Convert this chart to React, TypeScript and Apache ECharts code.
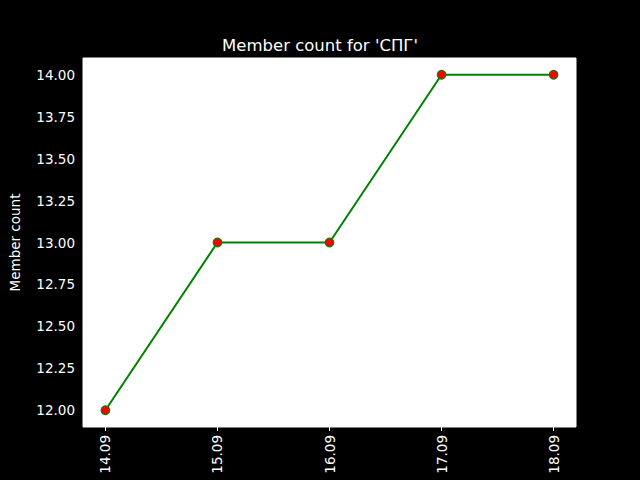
import React, { useEffect, useRef } from "react";
import * as echarts from "echarts";

const categories = ["14.09", "15.09", "16.09", "17.09", "18.09"];
const memberCounts = [12, 13, 13, 14, 14];
const yTicks = [12, 12.25, 12.5, 12.75, 13, 13.25, 13.5, 13.75, 14];
const titleText = "Member count for 'СПГ'";
const yAxisName = "Member count";

export default function App() {
  const ref = useRef<HTMLDivElement>(null);
  useEffect(() => {
    if (!ref.current) return;
    const chart = echarts.init(ref.current, null, { renderer: "svg" });
    const font = "DejaVu Sans";
    chart.setOption({
      animation: false,
      backgroundColor: "#000000",
      textStyle: { fontFamily: font },
      title: {
        text: titleText,
        left: "center",
        top: 32,
        textStyle: { color: "#ffffff", fontSize: 16.5, fontWeight: "normal", fontFamily: font },
      },
      grid: {
        left: 80,
        right: 64,
        top: 58,
        bottom: 53,
        show: true,
        backgroundColor: "#ffffff",
        borderColor: "#ffffff",
        borderWidth: 1,
      },
      xAxis: {
        type: "value",
        min: -0.2,
        max: 4.2,
        splitLine: { show: false },
        axisLine: { show: false },
        axisTick: {
          show: true,
          customValues: categories.map((_, i) => i),
          length: 4,
          lineStyle: { color: "#ffffff", width: 1 },
        },
        axisLabel: {
          customValues: categories.map((_, i) => i),
          rotate: 90,
          color: "#ffffff",
          fontSize: 13.5,
          fontFamily: font,
          margin: 8,
          formatter: (v: number) => categories[Math.round(v)] ?? "",
        },
      },
      yAxis: {
        type: "value",
        min: 11.9,
        max: 14.1,
        name: yAxisName,
        nameLocation: "middle",
        nameGap: 61,
        nameTextStyle: { color: "#ffffff", fontSize: 13.5, fontFamily: font },
        splitLine: { show: false },
        axisLine: { show: false },
        axisTick: {
          show: true,
          customValues: yTicks,
          length: 4,
          lineStyle: { color: "#ffffff", width: 1 },
        },
        axisLabel: {
          customValues: yTicks,
          color: "#ffffff",
          fontSize: 13.5,
          fontFamily: font,
          margin: 8,
          formatter: (v: number) => v.toFixed(2),
        },
      },
      series: [
        {
          type: "line",
          data: memberCounts.map((v, i) => [i, v]),
          lineStyle: { color: "#008000", width: 2 },
          symbol: "circle",
          symbolSize: 8.5,
          itemStyle: { color: "#ff0000", borderColor: "#008000", borderWidth: 1.2 },
          emphasis: { disabled: true },
        },
      ],
    });
    return () => chart.dispose();
  }, []);
  return <div ref={ref} style={{ width: 640, height: 480, position: "absolute", left: 0, top: 0 }} />;
}
